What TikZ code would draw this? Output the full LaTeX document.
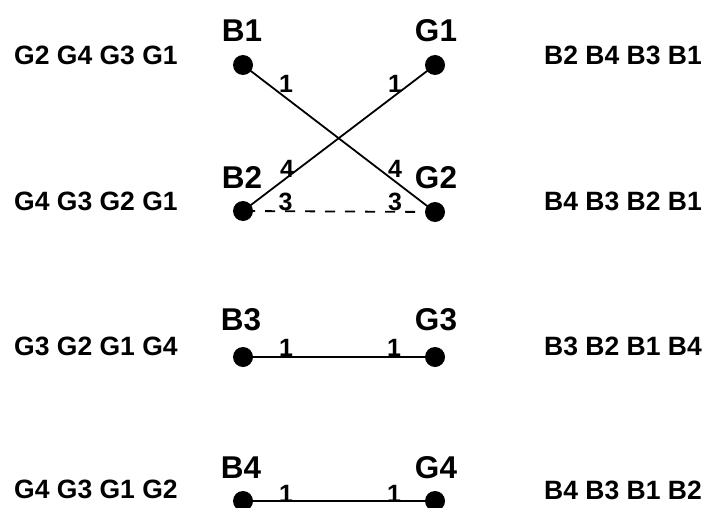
\documentclass[tikz,border=0pt]{standalone}
\usepackage{fontspec}
\setmainfont{Liberation Sans}
\begin{document}
\begin{tikzpicture}[x=1pt,y=-1pt,
  dot/.style={circle,fill=black,inner sep=0pt,minimum size=20pt},
  big/.style={font=\fontsize{31.5}{31.5}\selectfont\bfseries,inner sep=0pt,anchor=base},
  num/.style={font=\fontsize{25}{25}\selectfont\bfseries,inner sep=0pt,anchor=base},
  side/.style={font=\fontsize{26.5}{26.5}\selectfont\bfseries,inner sep=0pt,anchor=base west},
  link/.style={line width=1.8pt},
  dlink/.style={line width=1.8pt,dash pattern=on 10pt off 10pt,dash phase=18pt}]
\useasboundingbox (0,0) rectangle (706,508);
% dots
\node[dot] (b1) at (243,65) {};
\node[dot] (g1) at (435,65) {};
\node[dot] (b2) at (243,211) {};
\node[dot] (g2) at (435,212) {};
\node[dot] (b3) at (243,357) {};
\node[dot] (g3) at (435,357) {};
\node[dot] (b4) at (243,501) {};
\node[dot] (g4) at (435,501) {};
% links
\draw[link] (b1.center) -- (g2.center);
\draw[link] (g1.center) -- (b2.center);
\draw[dlink] (b2.center) -- (g2.center);
\draw[link] (b3.center) -- (g3.center);
\draw[link] (b4.center) -- (g4.center);
% big labels
\node[big] (lb1) at (242,42) {B1};
\node[big] (lg1) at (436,42) {G1};
\node[big] (lb2) at (242,188) {B2};
\node[big] (lg2) at (436,188) {G2};
\node[big] (lb3) at (241,330) {B3};
\node[big] (lg3) at (436,330) {G3};
\node[big] (lb4) at (241,478) {B4};
\node[big] (lg4) at (436,478) {G4};
% numbers
\node[num] (n1) at (286,93) {1};
\node[num] (n2) at (395,93) {1};
\node[num] (n3) at (287,177) {4};
\node[num] (n4) at (395,177) {4};
\node[num] (n5) at (285.5,210) {3};
\node[num] (n6) at (395,210) {3};
\node[num] (n7) at (286,356) {1};
\node[num] (n8) at (394,356) {1};
\node[num] (n9) at (286,502) {1};
\node[num] (n10) at (394,502) {1};
% side lists
\node[side] (p1) at (14,65) {G2 G4 G3 G1};
\node[side] (q1) at (544,65) {B2 B4 B3 B1};
\node[side] (p2) at (14,210) {G4 G3 G2 G1};
\node[side] (q2) at (544,210) {B4 B3 B2 B1};
\node[side] (p3) at (14,355) {G3 G2 G1 G4};
\node[side] (q3) at (544,355) {B3 B2 B1 B4};
\node[side] (p4) at (14,498) {G4 G3 G1 G2};
\node[side] (q4) at (544,499) {B4 B3 B1 B2};
\end{tikzpicture}
\end{document}
